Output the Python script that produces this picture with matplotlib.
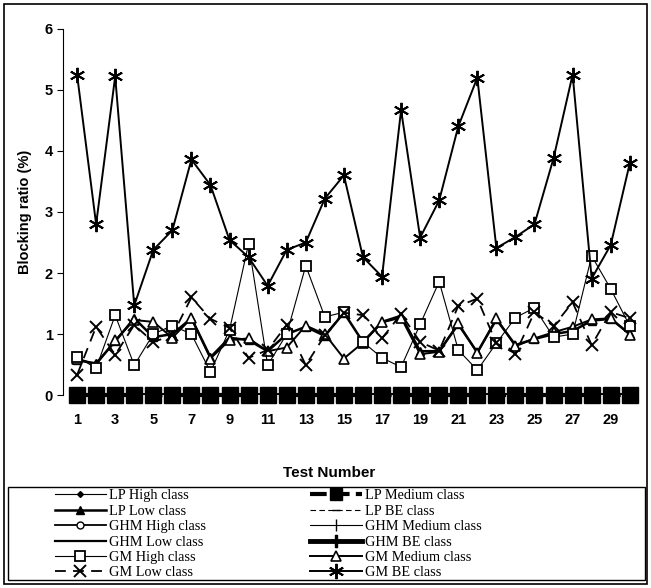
import matplotlib
matplotlib.use("Agg")
from matplotlib import pyplot as plt
from matplotlib.patches import Rectangle

tests = list(range(1, 31))
zeros = [0.0] * 30

gm_be = [5.25, 2.8, 5.22, 1.47, 2.38, 2.7, 3.86, 3.44, 2.54, 2.26, 1.79, 2.38, 2.5, 3.22,
         3.6, 2.26, 1.94, 4.67, 2.58, 3.19, 4.4, 5.2, 2.41, 2.59, 2.8, 3.88, 5.25, 1.91,
         2.46, 3.8]
gm_high = [0.63, 0.44, 1.31, 0.49, 1.0, 1.14, 1.0, 0.38, 1.07, 2.48, 0.49, 1.0, 2.12, 1.28,
           1.36, 0.87, 0.61, 0.46, 1.16, 1.86, 0.74, 0.41, 0.85, 1.27, 1.43, 0.95, 1.0, 2.28,
           1.74, 1.13]
gm_low = [0.33, 1.12, 0.66, 1.15, 0.87, 0.98, 1.6, 1.25, 1.1, 0.61, 0.74, 1.15, 0.49, 0.98,
          1.35, 1.31, 0.93, 1.33, 0.87, 0.73, 1.46, 1.58, 0.85, 0.68, 1.36, 1.13, 1.52, 0.82,
          1.36, 1.26]
gm_medium = [0.6, 0.5, 0.9, 1.23, 1.2, 0.94, 1.26, 0.6, 0.9, 0.93, 0.72, 0.78, 1.14, 1.0,
             0.6, 0.86, 1.19, 1.27, 0.67, 0.71, 1.18, 0.69, 1.26, 0.8, 0.93, 1.03, 1.12,
             1.24, 1.26, 0.99]
lp_low = [0.57, 0.52, 0.88, 1.26, 0.95, 1.0, 1.26, 0.62, 0.94, 0.9, 0.72, 1.0, 1.12, 0.97,
          1.35, 0.87, 1.2, 1.3, 0.72, 0.72, 1.16, 0.7, 1.24, 0.82, 0.92, 1.0, 1.05, 1.22,
          1.25, 1.0]
lp_high = zeros
lp_medium = zeros
lp_be = zeros
ghm_high = zeros
ghm_medium = zeros
ghm_low = zeros
ghm_be = zeros

xticks = list(range(1, 30, 2))
yticks = [0, 1, 2, 3, 4, 5, 6]

fig = plt.figure(figsize=(6.51, 5.88), dpi=100)
ax = fig.add_axes([0.097, 0.328, 0.888, 0.623])

h = {}
h['lp_high'], = ax.plot(tests, lp_high, color='black', lw=0.8, marker='D', ms=3, label='LP High class')
h['lp_be'], = ax.plot(tests, lp_be, color='black', lw=0.8, ls=(0, (5, 3)), marker='_', ms=6, label='LP BE class')
h['ghm_high'], = ax.plot(tests, ghm_high, color='black', lw=1.3, marker='o', ms=5, mfc='white', label='GHM High class')
h['ghm_medium'], = ax.plot(tests, ghm_medium, color='black', lw=0.8, marker='|', ms=9, label='GHM Medium class')
h['ghm_low'], = ax.plot(tests, ghm_low, color='black', lw=1.6, label='GHM Low class')
h['ghm_be'], = ax.plot(tests, ghm_be, color='black', lw=3.5, marker='$|\\!\\!|\\!\\!|$', ms=8, label='GHM BE class')
h['lp_medium'], = ax.plot(tests, lp_medium, color='black', lw=3, ls=(0, (4, 1.5)), marker='s', ms=12,
                          label='LP Medium class', clip_on=False, zorder=5)
h['lp_low'], = ax.plot(tests, lp_low, color='black', lw=1.8, marker='^', ms=6, mfc='black', label='LP Low class')
h['gm_medium'], = ax.plot(tests, gm_medium, color='black', lw=1.4, marker='^', ms=7, mfc='white', mew=1.2,
                          label='GM Medium class')
h['gm_high'], = ax.plot(tests, gm_high, color='black', lw=0.8, marker='s', ms=7, mfc='white', mew=1.3,
                        label='GM High class')
h['gm_low'], = ax.plot(tests, gm_low, color='black', lw=1.3, ls=(0, (6, 4)), marker='x', ms=9, mew=1.4,
                       label='GM Low class')
h['gm_be'], = ax.plot(tests, gm_be, color='black', lw=1.4, marker=(6, 2, 0), ms=11, mew=1.4,
                      label='GM BE class')

ax.set_xlim(0.27, 30.6)
ax.set_ylim(0, 6)
ax.set_xticks(xticks)
ax.set_yticks(yticks)
for s in ['top', 'right', 'bottom']:
    ax.spines[s].set_visible(False)
ax.spines['left'].set_linewidth(0.8)
ax.tick_params(axis='x', length=0, pad=13)
ax.tick_params(axis='y', length=4, width=0.8)
for lab in ax.get_xticklabels() + ax.get_yticklabels():
    lab.set_fontfamily('Liberation Sans')
    lab.set_fontweight('bold')
    lab.set_fontsize(10.5)

ax.set_ylabel('Blocking ratio (%)', fontfamily='Liberation Sans', fontweight='bold', fontsize=10.5, labelpad=9)
fig.text(0.505, 0.196, 'Test Number', ha='center', va='center',
         fontfamily='Liberation Sans', fontweight='bold', fontsize=11)

order = ['lp_high', 'lp_low', 'ghm_high', 'ghm_low', 'gm_high', 'gm_low',
         'lp_medium', 'lp_be', 'ghm_medium', 'ghm_be', 'gm_medium', 'gm_be']
leg = fig.legend([h[k] for k in order], [h[k].get_label() for k in order],
                 loc='upper left', bbox_to_anchor=(0.084, 0.168),
                 ncol=2, frameon=False,
                 prop={'family': 'Liberation Serif', 'size': 10.3},
                 handlelength=3.6, handletextpad=0.2, labelspacing=0.17, borderpad=0,
                 columnspacing=7.3, borderaxespad=0)
for lh in leg.get_lines():
    if lh.get_label() == 'LP Medium class':
        lh.set_markersize(8)

fig.patches.append(Rectangle((0.0125, 0.014), 0.978, 0.158, transform=fig.transFigure,
                             fill=False, edgecolor='black', lw=1.0))
fig.patches.append(Rectangle((0.006, 0.006), 0.988, 0.988, transform=fig.transFigure,
                             fill=False, edgecolor='black', lw=1.2))

fig.savefig('out.png', dpi=100)
